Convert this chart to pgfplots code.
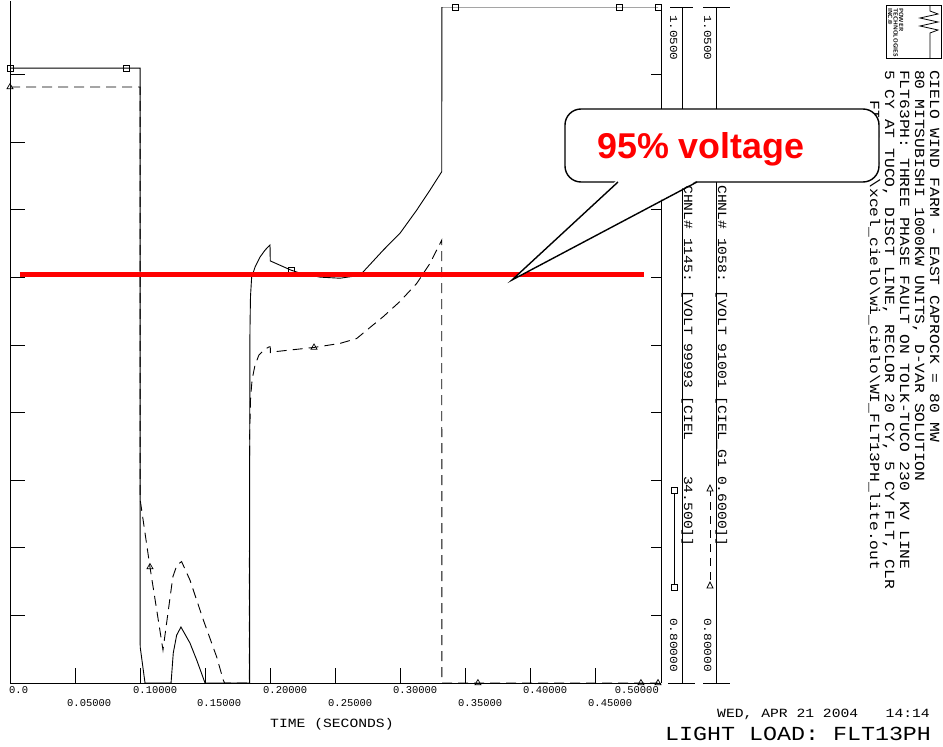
\documentclass[border=0pt]{standalone}
\usepackage{fontspec}
\setmainfont{Liberation Sans}
\newfontfamily\pss[FakeStretch=1.17]{Liberation Mono}
\newfontfamily\pssn{Liberation Mono}
\usepackage{pgfplots}
\pgfplotsset{compat=1.18}
\newcommand\fs[1]{\fontsize{#1}{#1}\selectfont}
\begin{document}
\begin{tikzpicture}
\path[use as bounding box] (0,0) rectangle (943bp,-747bp);
\begin{axis}[
  at={(10bp,-683bp)}, anchor=south west,
  scale only axis, width=651bp, height=676bp,
  xmin=0, xmax=0.5, ymin=0.8, ymax=1.05,
  axis x line*=bottom, axis y line*=left,
  axis line style={black, line width=0.9bp},
  xtick={0,0.05,0.1,0.15,0.2,0.25,0.3,0.35,0.4,0.45,0.5},
  ytick={0.825,0.85,0.875,0.9,0.925,0.95,0.975,1.0,1.025},
  xticklabels={}, yticklabels={},
  tick align=inside, major tick length=15bp,
  tick style={black, line width=0.9bp},
  clip mode=individual,
]
% CHNL 1145 (solid)
\addplot[black, line width=0.9bp] coordinates {
(0,1.0274) (0.0999,1.0274) (0.1000,0.8133) (0.1037,0.8) (0.1237,0.8)
(0.1254,0.8111) (0.1280,0.8177) (0.1313,0.8207) (0.1382,0.8148) (0.1434,0.8085)
(0.1498,0.8) (0.1840,0.8) (0.1841,0.886) (0.1843,0.9305) (0.1847,0.9428)
(0.1856,0.9501) (0.1882,0.9538) (0.1920,0.9575) (0.1959,0.9601) (0.1997,0.9620)
(0.1999,0.9561) (0.2158,0.9527) (0.2227,0.9516) (0.2381,0.9501) (0.2535,0.9497)
(0.2650,0.9505) (0.2704,0.9516) (0.2867,0.9601) (0.2995,0.9663) (0.3124,0.9749)
(0.3226,0.9823) (0.3316,0.9891) (0.3317,1.05) (0.4977,1.05)};
% CHNL 1058 (dashed)
\addplot[black, line width=0.9bp, dash pattern=on 10bp off 6bp] coordinates {
(0,1.0204) (0.0999,1.0204) (0.1000,0.8677) (0.1075,0.8429) (0.1175,0.8122)
(0.1213,0.8258) (0.1251,0.8393) (0.1282,0.8436) (0.1318,0.8449) (0.1382,0.8381)
(0.1485,0.8233) (0.1587,0.8097) (0.1638,0.8011) (0.1648,0.8) (0.1838,0.8)
(0.1840,0.8899) (0.1847,0.9047) (0.1859,0.9121) (0.1882,0.9176) (0.1912,0.9213)
(0.1951,0.9232) (0.1989,0.9243) (0.1999,0.9243) (0.2000,0.9222) (0.2048,0.9226)
(0.2335,0.9241) (0.2535,0.9256) (0.2663,0.9274) (0.2740,0.9305) (0.2867,0.9355)
(0.2995,0.9411) (0.3124,0.9478) (0.3226,0.9552) (0.3316,0.9638) (0.3317,0.8)
(0.4977,0.8)};
% markers
\addplot[only marks, mark=square, mark size=3bp, mark options={black, line width=0.7bp, solid}] coordinates {
(0,1.0274) (0.0891,1.0274) (0.2158,0.9527) (0.3418,1.05) (0.4677,1.05) (0.4977,1.05)};
\addplot[only marks, mark=triangle, mark size=3.5bp, mark options={black, line width=0.7bp, solid}] coordinates {
(0,1.0204) (0.1075,0.8429) (0.2335,0.9241) (0.3594,0.8) (0.4846,0.8) (0.4977,0.8)};
% 95% voltage line
\addplot[color={rgb,255:red,255;green,0;blue,0}, line width=5bp] coordinates {(0.0077,0.951) (0.487,0.951)};
\end{axis}
% right border with its own ticks
\begin{axis}[
  at={(10bp,-683bp)}, anchor=south west,
  scale only axis, width=651bp, height=676bp,
  xmin=0, xmax=0.5, ymin=0.8, ymax=1.05,
  axis x line=none, axis y line*=right,
  axis line style={black, line width=0.9bp},
  ytick={0.825,0.85,0.875,0.9,0.925,0.95,0.975,1.0,1.025},
  yticklabels={},
  tick align=inside, major tick length=10bp,
  tick style={black, line width=0.9bp},
]
\addplot[draw=none] coordinates {(0,0.8)};
\end{axis}
\begin{scope}[x=1bp, y=-1bp]
\draw[line width=0.9bp] (10,7) -- (10,1);
% x tick labels
\begin{scope}[every node/.style={inner sep=0pt, font=\pssn\fs{10.5}}]
\node[anchor=north west] at (9,686) {0.0};
\node[anchor=north west] at (133,686) {0.10000};
\node[anchor=north west] at (263,686) {0.20000};
\node[anchor=north west] at (393,686) {0.30000};
\node[anchor=north west] at (523,686) {0.40000};
\node[anchor=north east] at (659,686) {0.50000};
\node[anchor=north west] at (67,699) {0.05000};
\node[anchor=north west] at (197,699) {0.15000};
\node[anchor=north west] at (328,699) {0.25000};
\node[anchor=north west] at (458,699) {0.35000};
\node[anchor=north west] at (588,699) {0.45000};
\end{scope}
\node[inner sep=0pt, anchor=base west, font=\pss\fs{12.6}] at (270,727) {TIME~(SECONDS)};
\node[inner sep=0pt, anchor=base west, font=\pss\fs{12.6}] at (717,717) {WED,~APR~21~2004};
\node[inner sep=0pt, anchor=base east, font=\pss\fs{12.6}] at (930,717) {14:14};
\node[inner sep=0pt, anchor=base west, font=\pss\fs{20}] at (665,740) {LIGHT~LOAD:~FLT13PH};
% channel strips
\draw[line width=0.9bp] (670,7) -- (693,7) (703,7) -- (730,7);
\draw[line width=0.9bp] (668,683) -- (695,683) (703,683) -- (730,683);
\draw[line width=0.9bp] (682,7) -- (682,683) (716,7) -- (716,683);
\begin{scope}[every node/.style={inner sep=0pt, rotate=-90, anchor=base west}]
\node[font=\pss\fs{10.8}] at (670,15) {1.0500};
\node[font=\pss\fs{10.8}] at (704,15) {1.0500};
\node[font=\pss\fs{11}] at (670,618) {0.80000};
\node[font=\pss\fs{11}] at (704,618) {0.80000};
\node[font=\pss\fs{12.6}] at (684,185) {CHNL\#~1145:~[VOLT~99993~[CIEL~~~~34.500]]};
\node[font=\pss\fs{12.6}] at (718,185) {CHNL\#~1058:~[VOLT~91001~[CIEL\_G1~0.6000]]};
\end{scope}
\draw[line width=0.9bp] (674,490) -- (674,587);
\draw[line width=0.7bp, fill=white] (671,487) rectangle (677,493) (671,584) rectangle (677,590);
\draw[line width=0.9bp, dash pattern=on 8bp off 6bp] (710,488) -- (710,585);
\draw[line width=0.7bp, fill=white] (707,491) -- (713,491) -- (710,485) -- cycle (707,588) -- (713,588) -- (710,582) -- cycle;
% title block
\begin{scope}[every node/.style={inner sep=0pt, rotate=-90, anchor=base west, font=\pss\fs{14}}]
\node at (930,70) {CIELO~WIND~FARM~-~EAST~CAPROCK~=~80~MW};
\node at (915,70) {80~MITSUBISHI~1000KW~UNITS,~D-VAR~SOLUTION};
\node at (900,70) {FLT63PH:~THREE~PHASE~FAULT~ON~TOLK-TUCO~230~KV~LINE};
\node at (885,70) {5~CY~AT~TUCO,~DISCT~LINE,~RECLOR~20~CY,~5~CY~FLT,~CLR};
\node at (870,100) {FILE:~C:\textbackslash xcel\_cielo\textbackslash wi\_cielo\textbackslash WI\_FLT13PH\_lite.out};
\end{scope}
% logo
\draw[line width=0.9bp] (886,5) rectangle (941,58);
\begin{scope}[every node/.style={inner sep=0pt, rotate=-90, anchor=base west, font=\sffamily\bfseries\fs{6}}]
\node at (899,8) {POWER};
\node at (893.5,8) {TECHNOLOGIES};
\node at (888,8) {INC.\textregistered};
\end{scope}
\draw[line width=0.8bp] (930,5) -- (930,11) -- (938,14) -- (920,18) -- (938,22) -- (920,26) -- (938,30) -- (930,33) -- (930,58);
% callout
\draw[line width=1.4bp, fill=white, rounded corners=16bp] (565,109) rectangle (879,182);
\fill[white] (617,180) -- (512,280) -- (698,180) -- cycle;
\draw[line width=1.4bp, line join=miter] (618,182) -- (512,280) -- (697,182);
\node[inner sep=0pt, anchor=base west, text={rgb,255:red,255;green,0;blue,0}, font=\fs{36}\bfseries] at (597,158) {95\%~voltage};
\end{scope}
\end{tikzpicture}
\end{document}
